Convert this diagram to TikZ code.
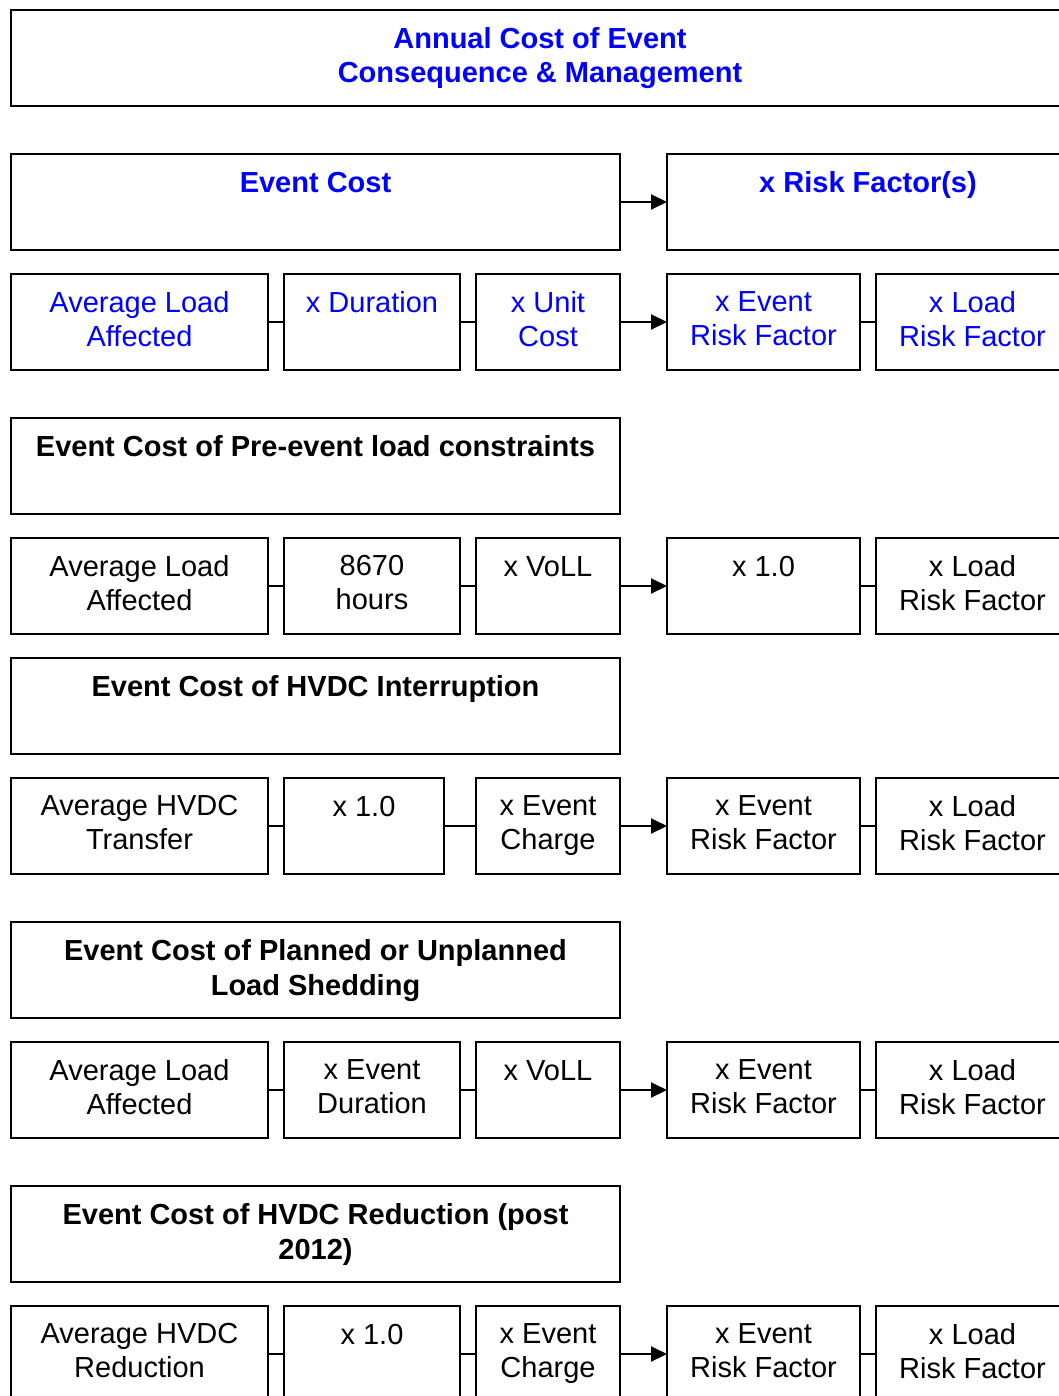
\documentclass[tikz,border=0pt]{standalone}
\usepackage{fontspec}
\setmainfont{Liberation Sans}
\usetikzlibrary{arrows.meta}
\definecolor{tblue}{RGB}{0,0,255}
\begin{document}
\begin{tikzpicture}[x=1pt,y=-1pt,
  bx/.style={draw=black,line width=2.2pt,anchor=north west,inner sep=0pt,outer sep=0pt,minimum height=96pt},
  lbl/.style={font=\fontsize{29}{34}\selectfont,align=center,anchor=north,inner sep=0pt,execute at begin node={\rule{0pt}{21pt}}},
  hd/.style={font=\fontsize{29}{35}\selectfont\bfseries,align=center,anchor=north,inner sep=0pt,execute at begin node={\rule{0pt}{21pt}}},
  lnk/.style={line width=2pt},
  arr/.style={line width=2pt,-{Triangle[length=16pt,width=15pt]}}]
\useasboundingbox (0,0) rectangle (1059,1396);
% top
\node[bx,minimum width=1058pt,line width=2.5pt] (top) at (11,10) {};
\node[hd,text=tblue] (topt) at ([yshift=-17pt]top.north) {Annual Cost of Event\\[-1pt]Consequence \& Management};
% row A
\node[bx,minimum width=609pt] (ec) at (11,154) {};
\node[bx,minimum width=402pt] (rf) at (667,154) {};
\node[hd,text=tblue] (ect) at ([yshift=-17pt]ec.north) {Event Cost};
\node[hd,text=tblue] (rft) at ([yshift=-17pt]rf.north) {x Risk Factor(s)};
\draw[arr] (ec.east) -- (rf.west);
% row B
\node[bx,minimum width=257pt] (b1) at (11,274) {};
\node[bx,minimum width=176pt] (b2) at (284,274) {};
\node[bx,minimum width=144pt] (b3) at (476,274) {};
\node[bx,minimum width=193pt] (b4) at (667,274) {};
\node[bx,minimum width=193pt] (b5) at (876,274) {};
\node[lbl,text=tblue] (b1t) at ([yshift=-17pt]b1.north) {Average Load\\Affected};
\node[lbl,text=tblue] (b2t) at ([yshift=-17pt]b2.north) {x Duration};
\node[lbl,text=tblue] (b3t) at ([yshift=-17pt]b3.north) {x Unit\\Cost};
\node[lbl,text=tblue] (b4t) at ([yshift=-17pt]b4.north) {x Event\\Risk Factor};
\node[lbl,text=tblue] (b5t) at ([yshift=-17pt]b5.north) {x Load\\Risk Factor};
\draw[lnk] (b1.east) -- (b2.west);
\draw[lnk] (b2.east) -- (b3.west);
\draw[arr] (b3.east) -- (b4.west);
\draw[lnk] (b4.east) -- (b5.west);
% header 1
\node[bx,minimum width=609pt] (h1) at (11,418) {};
\node[hd] (h1t) at ([yshift=-17pt]h1.north) {Event Cost of Pre-event load constraints};
% row C
\node[bx,minimum width=257pt] (c1) at (11,538) {};
\node[bx,minimum width=176pt] (c2) at (284,538) {};
\node[bx,minimum width=144pt] (c3) at (476,538) {};
\node[bx,minimum width=193pt] (c4) at (667,538) {};
\node[bx,minimum width=193pt] (c5) at (876,538) {};
\node[lbl] (c1t) at ([yshift=-17pt]c1.north) {Average Load\\Affected};
\node[lbl] (c2t) at ([yshift=-17pt]c2.north) {8670\\hours};
\node[lbl] (c3t) at ([yshift=-17pt]c3.north) {x VoLL};
\node[lbl] (c4t) at ([yshift=-17pt]c4.north) {x 1.0};
\node[lbl] (c5t) at ([yshift=-17pt]c5.north) {x Load\\Risk Factor};
\draw[lnk] (c1.east) -- (c2.west);
\draw[lnk] (c2.east) -- (c3.west);
\draw[arr] (c3.east) -- (c4.west);
\draw[lnk] (c4.east) -- (c5.west);
% header 2
\node[bx,minimum width=609pt] (h2) at (11,658) {};
\node[hd] (h2t) at ([yshift=-17pt]h2.north) {Event Cost of HVDC Interruption};
% row D
\node[bx,minimum width=257pt] (d1) at (11,778) {};
\node[bx,minimum width=160pt] (d2) at (284,778) {};
\node[bx,minimum width=144pt] (d3) at (476,778) {};
\node[bx,minimum width=193pt] (d4) at (667,778) {};
\node[bx,minimum width=193pt] (d5) at (876,778) {};
\node[lbl] (d1t) at ([yshift=-17pt]d1.north) {Average HVDC\\Transfer};
\node[lbl] (d2t) at ([yshift=-17pt]d2.north) {x 1.0};
\node[lbl] (d3t) at ([yshift=-17pt]d3.north) {x Event\\Charge};
\node[lbl] (d4t) at ([yshift=-17pt]d4.north) {x Event\\Risk Factor};
\node[lbl] (d5t) at ([yshift=-17pt]d5.north) {x Load\\Risk Factor};
\draw[lnk] (d1.east) -- (d2.west);
\draw[lnk] (d2.east) -- (d3.west);
\draw[arr] (d3.east) -- (d4.west);
\draw[lnk] (d4.east) -- (d5.west);
% header 3
\node[bx,minimum width=609pt] (h3) at (11,922) {};
\node[hd] (h3t) at ([yshift=-17pt]h3.north) {Event Cost of Planned or Unplanned\\Load Shedding};
% row E
\node[bx,minimum width=257pt] (e1) at (11,1042) {};
\node[bx,minimum width=176pt] (e2) at (284,1042) {};
\node[bx,minimum width=144pt] (e3) at (476,1042) {};
\node[bx,minimum width=193pt] (e4) at (667,1042) {};
\node[bx,minimum width=193pt] (e5) at (876,1042) {};
\node[lbl] (e1t) at ([yshift=-17pt]e1.north) {Average Load\\Affected};
\node[lbl] (e2t) at ([yshift=-17pt]e2.north) {x Event\\Duration};
\node[lbl] (e3t) at ([yshift=-17pt]e3.north) {x VoLL};
\node[lbl] (e4t) at ([yshift=-17pt]e4.north) {x Event\\Risk Factor};
\node[lbl] (e5t) at ([yshift=-17pt]e5.north) {x Load\\Risk Factor};
\draw[lnk] (e1.east) -- (e2.west);
\draw[lnk] (e2.east) -- (e3.west);
\draw[arr] (e3.east) -- (e4.west);
\draw[lnk] (e4.east) -- (e5.west);
% header 4
\node[bx,minimum width=609pt] (h4) at (11,1186) {};
\node[hd] (h4t) at ([yshift=-17pt]h4.north) {Event Cost of HVDC Reduction (post\\2012)};
% row F
\node[bx,minimum width=257pt] (f1) at (11,1306) {};
\node[bx,minimum width=176pt] (f2) at (284,1306) {};
\node[bx,minimum width=144pt] (f3) at (476,1306) {};
\node[bx,minimum width=193pt] (f4) at (667,1306) {};
\node[bx,minimum width=193pt] (f5) at (876,1306) {};
\node[lbl] (f1t) at ([yshift=-17pt]f1.north) {Average HVDC\\Reduction};
\node[lbl] (f2t) at ([yshift=-17pt]f2.north) {x 1.0};
\node[lbl] (f3t) at ([yshift=-17pt]f3.north) {x Event\\Charge};
\node[lbl] (f4t) at ([yshift=-17pt]f4.north) {x Event\\Risk Factor};
\node[lbl] (f5t) at ([yshift=-17pt]f5.north) {x Load\\Risk Factor};
\draw[lnk] (f1.east) -- (f2.west);
\draw[lnk] (f2.east) -- (f3.west);
\draw[arr] (f3.east) -- (f4.west);
\draw[lnk] (f4.east) -- (f5.west);
\end{tikzpicture}
\end{document}
